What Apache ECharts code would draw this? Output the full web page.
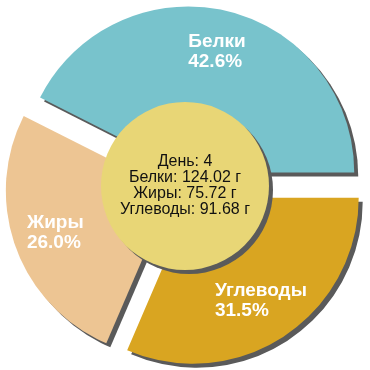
<!DOCTYPE html>
<html><head><meta charset="utf-8">
<script src="https://cdn.jsdelivr.net/npm/echarts@6/dist/echarts.min.js"></script>
<style>html,body{margin:0;padding:0;background:#fff}#c{width:370px;height:370px}</style>
</head><body><div id="c"></div>
<script>
const categories = ['Белки', 'Жиры', 'Углеводы'];
const grams = [124.02, 75.72, 91.68];
const day = 4;
const colors = ['#78C3CC', '#EDC593', '#D9A521'];
const centerColor = '#E8D676';

const total = grams.reduce((a, b) => a + b, 0);
const shadow = { shadowColor: '#5a5a5a', shadowBlur: 0, shadowOffsetX: 4, shadowOffsetY: 4 };
const CX = 185, CY = 186, R = 166, OFF = 14;

const mainData = categories.map((n, i) => ({
  name: n, value: grams[i], selected: true,
  itemStyle: Object.assign({ color: colors[i], borderWidth: 0 }, shadow),
  select: { itemStyle: Object.assign({ color: colors[i], borderWidth: 0 }, shadow) }
}));
const labelData = categories.map((n, i) => ({
  name: n, value: grams[i], selected: true,
  itemStyle: { color: 'rgba(0,0,0,0)', borderWidth: 0 },
  select: { itemStyle: { color: 'rgba(0,0,0,0)', borderWidth: 0 } }
}));

const chart = echarts.init(document.getElementById('c'), null, { renderer: 'canvas' });
chart.setOption({
  animation: false,
  series: [
    {
      type: 'pie', center: [CX, CY], radius: [0, R], startAngle: 0, clockwise: false,
      selectedMode: 'multiple', selectedOffset: OFF, silent: true,
      label: { show: false }, labelLine: { show: false },
      emphasis: { disabled: true },
      data: mainData
    },
    {
      type: 'pie', center: [CX, CY], radius: [76, R], startAngle: 0, clockwise: false,
      selectedMode: 'multiple', selectedOffset: OFF, silent: true, z: 3,
      emphasis: { disabled: true }, labelLine: { show: false },
      label: {
        show: true, position: 'inside',
        formatter: p => '{n|' + p.name + '}\n{n|' + (p.value / total * 100).toFixed(1) + '%}',
        rich: { n: { color: '#fff', fontSize: 19, fontWeight: 'bold', fontFamily: 'Liberation Sans, Arial, sans-serif', lineHeight: 20, align: 'left' } }
      },
      data: labelData
    },
    {
      type: 'pie', center: [CX, CY], radius: [0, 84], silent: true, z: 4,
      emphasis: { disabled: true }, labelLine: { show: false },
      itemStyle: Object.assign({ color: centerColor, borderWidth: 0 }, shadow),
      label: {
        show: true, position: 'center', color: '#111', fontSize: 16, lineHeight: 16,
        fontFamily: 'Liberation Sans, Arial, sans-serif',
        formatter: () => ['День: ' + day].concat(categories.map((n, i) => n + ': ' + grams[i].toFixed(2) + ' г')).join('\n')
      },
      data: [{ name: 'center', value: 1 }]
    }
  ]
});
</script></body></html>
